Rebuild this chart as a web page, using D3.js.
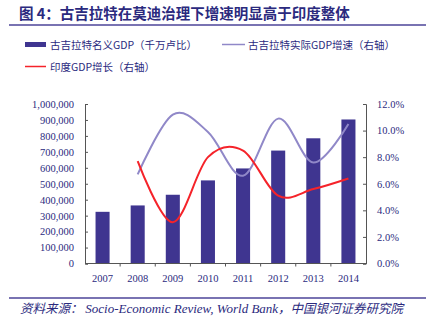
<!DOCTYPE html>
<html>
<head>
<meta charset="utf-8">
<script src="https://cdn.jsdelivr.net/npm/d3@7"></script>
<style>
  body { margin: 0; background: #fff; }
  svg { display: block; }
</style>
</head>
<body>
<svg id="chart"></svg>
<script>
// Gujarat nominal GDP (crore rupees) with real growth, plus India GDP growth
const years = ["2007", "2008", "2009", "2010", "2011", "2012", "2013", "2014"];
const gujaratGdp = [324000, 364000, 431000, 521000, 596000, 708000, 785000, 903000];
const gujaratGrowth = [null, 6.7, 11.2, 9.9, 6.6, 10.9, 7.6, 10.5];
const indiaGrowth = [null, 7.7, 3.1, 8.0, 8.5, 5.1, 5.6, 6.4];
const leftTicks = d3.range(0, 1000001, 100000);
const rightTicks = d3.range(0, 12.01, 2);

const width = 426, height = 331;
const margin = { top: 104, right: 60, bottom: 68, left: 85 };
const navy = "#2b2a7e";
const barColor = "#3f3590";
const lineColor = "#9088c8";
const redColor = "#f5232a";
const cjk = "'Noto Sans CJK SC', sans-serif";
const serif = "'Liberation Serif', 'Times New Roman', serif";

const svg = d3.select("#chart").attr("width", width).attr("height", height);

// Title and rules
svg.append("text")
    .attr("x", 19).attr("y", 19)
    .attr("font-family", cjk).attr("font-weight", "bold")
    .attr("font-size", 14.5).attr("fill", navy)
    .text("图 4：古吉拉特在莫迪治理下增速明显高于印度整体");
svg.append("line").attr("x1", 9).attr("x2", width).attr("y1", 25).attr("y2", 25)
    .attr("stroke", "#4c4599").attr("stroke-width", 1.5);
svg.append("line").attr("x1", 9).attr("x2", width).attr("y1", 298).attr("y2", 298)
    .attr("stroke", "#4c4599").attr("stroke-width", 1.5);

const footer = svg.append("text")
    .attr("x", 20).attr("y", 313)
    .attr("fill", navy).attr("font-style", "italic");
footer.append("tspan").attr("font-family", cjk).attr("font-size", 12.5).text("资料来源：   ");
footer.append("tspan").attr("font-family", serif).attr("font-size", 13).text("Socio-Economic Review, World Bank");
footer.append("tspan").attr("font-family", cjk).attr("font-size", 12.5).text("，中国银河证券研究院");

// Legend
const legend = svg.append("g").attr("font-family", cjk).attr("font-size", 10.5).attr("fill", navy);
legend.append("rect").attr("x", 25).attr("y", 42).attr("width", 21).attr("height", 5).attr("fill", barColor);
legend.append("text").attr("x", 50).attr("y", 48.5).text("古吉拉特名义GDP（千万卢比）");
legend.append("line").attr("x1", 222).attr("x2", 245).attr("y1", 44.5).attr("y2", 44.5)
    .attr("stroke", lineColor).attr("stroke-width", 1.5);
legend.append("text").attr("x", 248).attr("y", 48.5).text("古吉拉特实际GDP增速（右轴）");
legend.append("line").attr("x1", 25).attr("x2", 46).attr("y1", 66.5).attr("y2", 66.5)
    .attr("stroke", redColor).attr("stroke-width", 1.5);
legend.append("text").attr("x", 50).attr("y", 70.5).text("印度GDP增长（右轴）");

// Scales
const x = d3.scaleBand().domain(years)
    .range([margin.left, width - margin.right]).paddingInner(0.6).paddingOuter(0.3);
const xCenter = d => x(d) + x.bandwidth() / 2;
const yLeft = d3.scaleLinear().domain([0, 1000000]).range([height - margin.bottom + 0.5, margin.top]);
const yRight = d3.scaleLinear().domain([0, 12]).range([height - margin.bottom + 0.5, margin.top]);

// Bars
svg.append("g").selectAll("rect")
    .data(years.map((y, i) => ({ year: y, value: gujaratGdp[i] })))
    .join("rect")
    .attr("x", d => x(d.year))
    .attr("y", d => yLeft(d.value))
    .attr("width", x.bandwidth())
    .attr("height", d => yLeft(0) - yLeft(d.value))
    .attr("fill", barColor);

// Smoothed growth lines
function drawLine(values, color) {
    const pts = years.map((y, i) => [xCenter(y), values[i]]).filter(p => p[1] != null);
    svg.append("path")
        .attr("d", d3.line().x(p => p[0]).y(p => yRight(p[1])).curve(d3.curveCardinal.tension(0))(pts))
        .attr("fill", "none").attr("stroke", color).attr("stroke-width", 2);
}
drawLine(gujaratGrowth, lineColor);
drawLine(indiaGrowth, redColor);

// Axes
const axisColor = "#555";
function styleAxis(g) {
    g.select(".domain").attr("stroke", axisColor);
    g.selectAll(".tick line").attr("stroke", axisColor);
    g.selectAll(".tick text").attr("fill", navy).attr("font-family", serif).attr("font-size", 10.5);
}

svg.append("g")
    .attr("transform", `translate(${margin.left},0)`)
    .call(d3.axisLeft(yLeft).tickValues(leftTicks).tickFormat(d3.format(",")).tickSizeInner(-3).tickSizeOuter(-3).tickPadding(11))
    .call(styleAxis);

svg.append("g")
    .attr("transform", `translate(${width - margin.right},0)`)
    .call(d3.axisRight(yRight).tickValues(rightTicks).tickFormat(d => d.toFixed(1) + "%").tickSizeInner(-3).tickSizeOuter(-3).tickPadding(11))
    .call(styleAxis);

// Category axis with ticks between bars
const xAxis = svg.append("g").attr("transform", `translate(0,${yLeft(0)})`);
xAxis.append("line").attr("x1", margin.left).attr("x2", width - margin.right)
    .attr("stroke", axisColor);
const step = (width - margin.right - margin.left) / years.length;
xAxis.selectAll("line.sep").data(d3.range(1, years.length))
    .join("line").attr("class", "sep")
    .attr("x1", i => margin.left + i * step).attr("x2", i => margin.left + i * step)
    .attr("y1", 0).attr("y2", 3).attr("stroke", axisColor);
xAxis.selectAll("text").data(years).join("text")
    .attr("x", d => xCenter(d)).attr("y", 18)
    .attr("text-anchor", "middle")
    .attr("font-family", serif).attr("font-size", 10.5).attr("fill", navy)
    .text(d => d);
</script>
</body>
</html>
